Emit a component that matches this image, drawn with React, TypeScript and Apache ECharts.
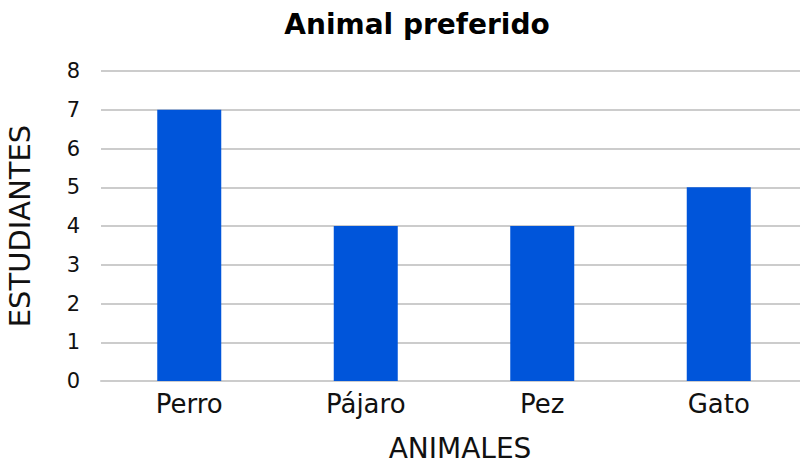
import React, { useEffect, useRef } from "react";
import * as echarts from "echarts";

const categories = ["Perro", "Pájaro", "Pez", "Gato"];
const values = [7, 4, 4, 5];
const titleText = "Animal preferido";
const xName = "ANIMALES";
const yName = "ESTUDIANTES";

export default function App() {
  const ref = useRef<HTMLDivElement>(null);
  useEffect(() => {
    const chart = echarts.init(ref.current!, null, { renderer: "svg" });
    const font = "'DejaVu Sans', sans-serif";
    chart.setOption({
      animation: false,
      backgroundColor: "#ffffff",
      title: {
        text: titleText,
        left: 412,
        top: 5,
        textAlign: "center",
        textStyle: { fontFamily: font, fontWeight: "bold", fontSize: 28, color: "#000" },
      },
      grid: { left: 101, right: -7, top: 71, bottom: 83, containLabel: false, outerBoundsMode: "none" },
      xAxis: {
        type: "category",
        data: categories,
        name: xName,
        nameLocation: "middle",
        nameGap: 53,
        nameTextStyle: { fontFamily: font, fontSize: 28, color: "#111", padding: [0, 0, 0, 12] },
        axisLine: { show: true, lineStyle: { color: "#cccccc", width: 2 } },
        axisTick: { show: false },
        axisLabel: { fontFamily: font, fontSize: 26, color: "#111", margin: 10 },
      },
      yAxis: {
        type: "value",
        min: 0,
        max: 8,
        interval: 1,
        name: yName,
        nameLocation: "middle",
        nameGap: 67,
        nameTextStyle: { fontFamily: font, fontSize: 29, color: "#111" },
        axisLine: { show: false },
        axisTick: { show: false },
        axisLabel: { fontFamily: font, fontSize: 21, color: "#111", margin: 21 },
        splitLine: { lineStyle: { color: "#cccccc", width: 2 } },
      },
      series: [
        {
          type: "bar",
          data: values,
          barWidth: 64,
          itemStyle: { color: "#0055DA" },
        },
      ],
    });
    return () => chart.dispose();
  }, []);
  return (
    <div
      ref={ref}
      style={{ position: "fixed", left: 0, top: 0, width: 800, height: 464 }}
    />
  );
}
